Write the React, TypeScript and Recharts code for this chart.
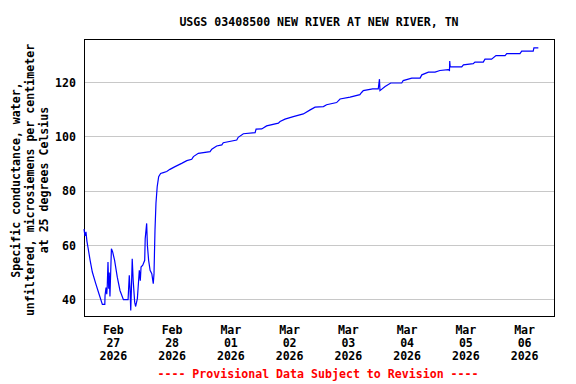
import React from "react";
import { CartesianGrid, Line, LineChart, ReferenceArea, XAxis, YAxis } from "recharts";

// hours since Feb 27 2026 00:00
const hours = [
  0, 0.4, 0.8, 1.2, 1.6, 2.5, 3.4, 4.8, 6.1, 7.5, 8.5, 8.6, 9.0, 9.3, 9.5, 9.8, 10.1, 10.3, 10.6, 11.2,
  11.7, 12.5, 13.6, 14.7, 16.1, 18.0, 18.5, 18.8, 19.1, 19.4, 19.7, 20.1, 20.7, 21.1, 21.8, 22.6, 23.0,
  23.3, 24.0, 24.8, 25.0, 25.6, 25.9, 26.4, 27.0, 27.7, 28.1, 28.3, 28.6, 29.0, 29.4, 29.9, 30.5, 31.3,
  32.4, 33.8, 35.1, 37.2, 39.9, 42.0, 44.0, 44.7, 46.7, 51.5, 52.2, 54.2, 56.3, 56.9, 62.4, 63.0, 65.1,
  69.9, 70.3, 72.6, 74.6, 79.4, 80.1, 82.1, 85.5, 89.6, 92.4, 94.4, 97.8, 99.1, 103.2, 104.6, 108.7,
  112.7, 113.4, 114.1, 117.9, 120.2, 120.7, 120.9, 123.0, 125.3, 129.8, 130.4, 133.9, 137.3, 138.0,
  140.7, 143.4, 145.4, 148.8, 149.3, 149.4, 149.6, 154.3, 155.0, 159.0, 159.7, 163.1, 163.8, 166.5,
  168.3, 172.0, 172.7, 178.1, 178.8, 183.5, 183.8, 185.6,
];
const conductance = [
  66.0, 63.5, 65.0, 61.5, 59.4, 54.5, 50.2, 45.9, 42.2, 38.3, 38.3, 41.6, 44.5, 42.0, 45.0, 53.9, 44.0,
  50.0, 41.2, 58.8, 57.6, 54.5, 48.3, 43.4, 40.0, 40.0, 49.0, 44.0, 36.0, 45.0, 55.1, 47.0, 39.1, 37.5,
  40.4, 50.8, 47.0, 52.0, 52.7, 54.5, 62.5, 68.1, 60.0, 54.5, 50.8, 49.6, 47.1, 45.9, 49.6, 65.6, 75.5,
  81.6, 85.3, 86.5, 86.8, 87.2, 88.0, 89.0, 90.2, 91.2, 91.7, 92.7, 93.9, 94.5, 95.4, 96.6, 97.0, 97.8,
  98.8, 99.8, 101.1, 101.5, 102.8, 102.9, 104.0, 105.0, 105.6, 106.5, 107.4, 108.4, 109.9, 110.9, 111.1,
  111.8, 112.6, 113.9, 114.6, 115.5, 116.3, 117.0, 117.6, 117.6, 121.2, 117.0, 118.5, 119.8, 119.8,
  120.7, 121.6, 121.6, 122.8, 123.8, 123.8, 124.4, 124.7, 124.4, 127.9, 125.7, 125.7, 126.5, 126.9,
  127.5, 127.5, 128.6, 128.6, 129.9, 129.9, 130.6, 130.6, 131.5, 131.5, 132.7, 132.7,
];

const dayMonths = ["Feb", "Feb", "Mar", "Mar", "Mar", "Mar", "Mar", "Mar"];
const dayNumbers = ["27", "28", "01", "02", "03", "04", "05", "06"];
const dayYear = "2026";
const noonTicks = [12, 36, 60, 84, 108, 132, 156, 180];
const midnightTicks = [24, 48, 72, 96, 120, 144, 168];
const yTicks = [40, 60, 80, 100, 120];

const data = hours.map((h, i) => ({ h, v: conductance[i] }));

const font = "'DejaVu Sans Mono', monospace";

function DateTick(props: any) {
  const { x, y, payload } = props;
  const i = noonTicks.indexOf(payload.value);
  return (
    <text x={x} textAnchor="middle" fontFamily={font} fontWeight="bold" fontSize={11.6} fill="#000">
      <tspan x={x} y={y + 9.5}>{dayMonths[i]}</tspan>
      <tspan x={x} y={y + 22.5}>{dayNumbers[i]}</tspan>
      <tspan x={x} y={y + 35.5}>{dayYear}</tspan>
    </text>
  );
}

export default function App() {
  return (
    <div style={{ position: "absolute", left: 0, top: 0, width: 576, height: 384, background: "#fff" }}>
      <LineChart width={576} height={384} data={data} margin={{ top: 39, right: 22, bottom: 8, left: 0 }}>
        <CartesianGrid xAxisId="grid" stroke="#c8c8c8" strokeDasharray="" shapeRendering="crispEdges" />
        <XAxis
          xAxisId="grid"
          dataKey="h"
          type="number"
          domain={[0, 192]}
          ticks={midnightTicks}
          tick={false}
          tickLine={false}
          axisLine={false}
          height={0}
        />
        <XAxis
          xAxisId="label"
          dataKey="h"
          type="number"
          domain={[0, 192]}
          ticks={noonTicks}
          tick={<DateTick />}
          tickLine={false}
          axisLine={false}
          interval={0}
          height={60}
        />
        <YAxis
          domain={[34, 136]}
          ticks={yTicks}
          width={84}
          tickLine={false}
          axisLine={false}
          tick={{ fontFamily: font, fontWeight: "bold", fontSize: 11.6, fill: "#000" }}
        />
        <ReferenceArea
          xAxisId="label"
          x1={0}
          x2={192}
          y1={34}
          y2={136}
          fill="none"
          fillOpacity={0}
          stroke="#000"
          strokeWidth={1}
          shapeRendering="crispEdges"
        />
        <Line
          xAxisId="label"
          dataKey="v"
          type="linear"
          stroke="#0000ff"
          strokeWidth={1.2}
          dot={false}
          isAnimationActive={false}
        />
      </LineChart>
      <svg width={576} height={384} style={{ position: "absolute", left: 0, top: 0, pointerEvents: "none" }}>
        <text x={319} y={26} textAnchor="middle" fontFamily={font} fontWeight="bold" fontSize={11.6} fill="#000">
          USGS 03408500 NEW RIVER AT NEW RIVER, TN
        </text>
        <g fontFamily={font} fontWeight="bold" fontSize={11.6} fill="#000" textAnchor="middle">
          <text transform="translate(20,180) rotate(-90)">Specific conductance, water,</text>
          <text transform="translate(34,180) rotate(-90)">unfiltered, microsiemens per centimeter</text>
          <text transform="translate(48,180) rotate(-90)">at 25 degrees Celsius</text>
        </g>
        <text x={318} y={378} textAnchor="middle" fontFamily={font} fontWeight="bold" fontSize={11.6} fill="#ff0000">
          ---- Provisional Data Subject to Revision ----
        </text>
      </svg>
    </div>
  );
}
